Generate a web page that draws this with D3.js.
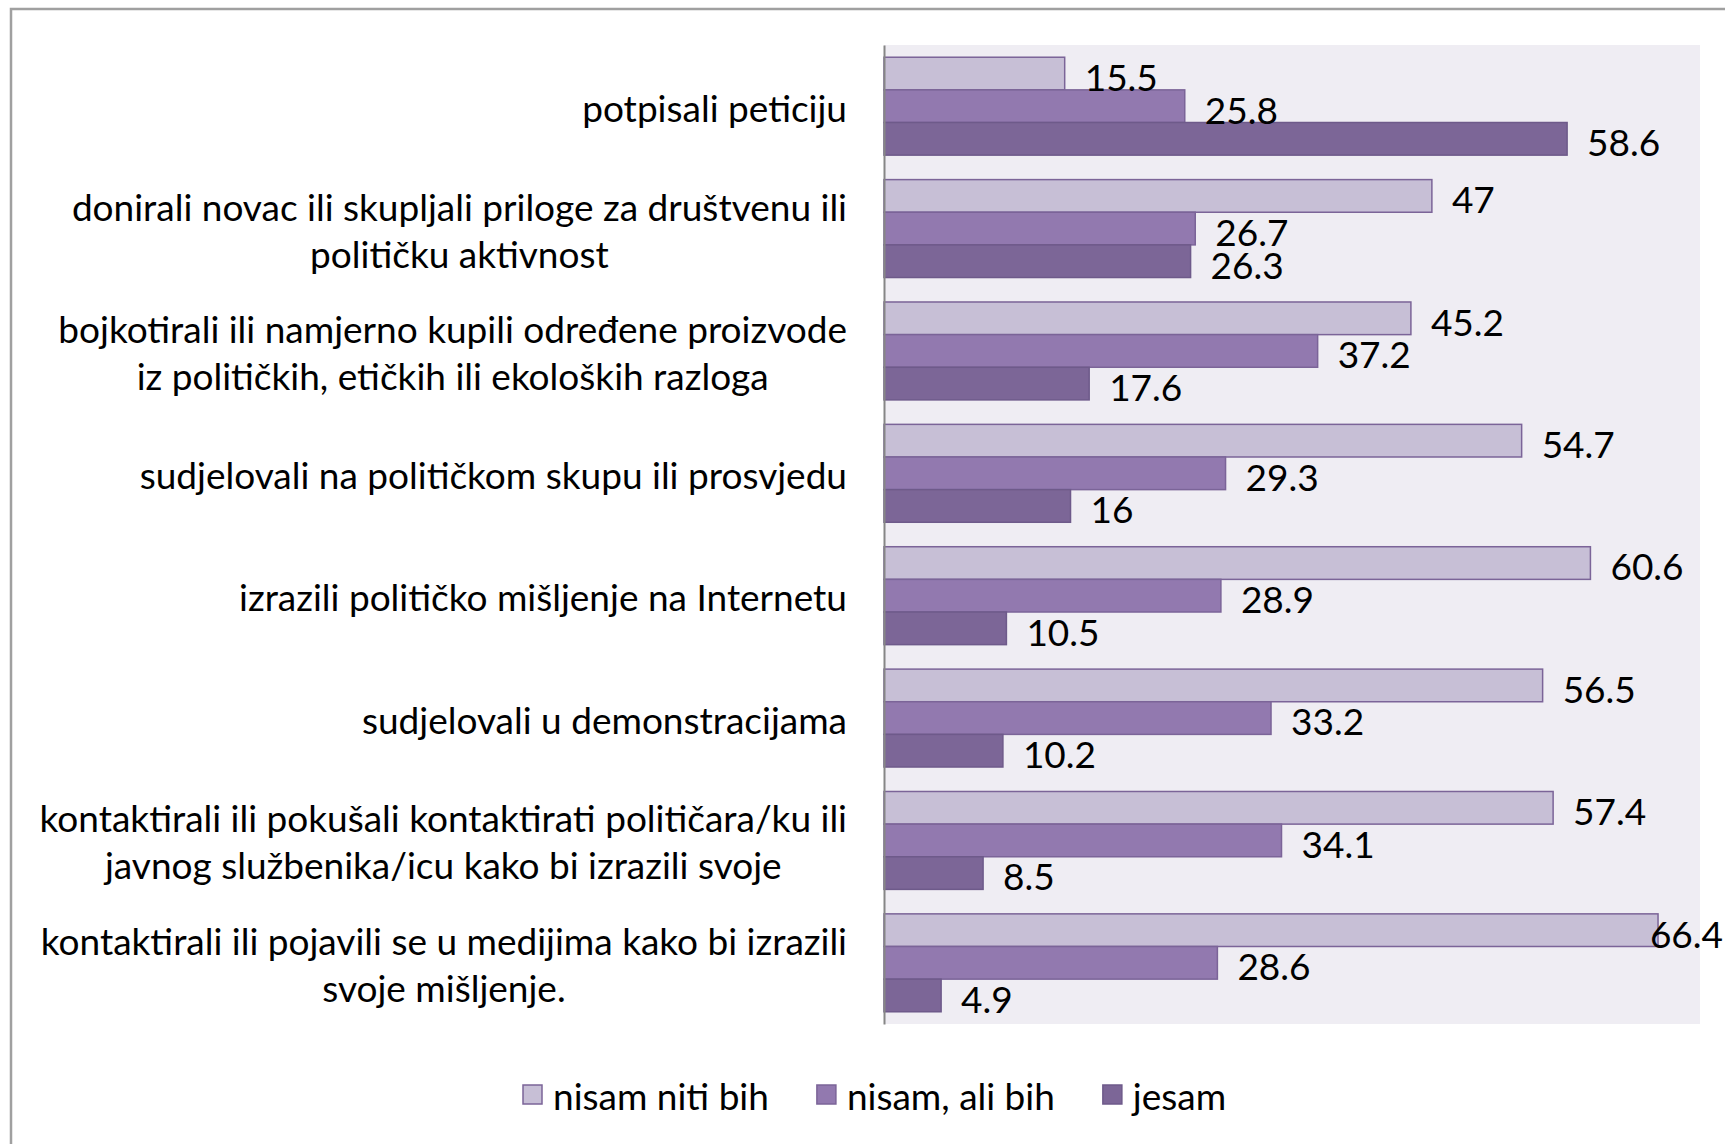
<!DOCTYPE html>
<html>
<head>
<meta charset="utf-8">
<script src="https://d3js.org/d3.v7.min.js"></script>
<style>
  body { margin: 0; background: #fff; }
  text { font-family: Lato, "Open Sans", sans-serif; fill: #000; }
</style>
</head>
<body>
<script>
// categories (top to bottom), line breaks as in the original
var categories = [
  "potpisali peticiju",
  "donirali novac ili skupljali priloge za društvenu ili\npolitičku aktivnost",
  "bojkotirali ili namjerno kupili određene proizvode\niz političkih, etičkih ili ekoloških razloga",
  "sudjelovali na političkom skupu ili prosvjedu",
  "izrazili političko mišljenje na Internetu",
  "sudjelovali u demonstracijama",
  "kontaktirali ili pokušali kontaktirati političara/ku ili\njavnog službenika/icu kako bi izrazili svoje",
  "kontaktirali ili pojavili se u medijima kako bi izrazili\nsvoje mišljenje."
];

var seriesNames = ["nisam niti bih", "nisam, ali bih", "jesam"];
var nisamNitiBih = [15.5, 47, 45.2, 54.7, 60.6, 56.5, 57.4, 66.4];
var nisamAliBih = [25.8, 26.7, 37.2, 29.3, 28.9, 33.2, 34.1, 28.6];
var jesam = [58.6, 26.3, 17.6, 16, 10.5, 10.2, 8.5, 4.9];
var seriesValues = [nisamNitiBih, nisamAliBih, jesam];

var colors = ["#c7bfd6", "#9279af", "#7c6697"];
var strokes = ["#7b6498", "#7b6498", "#6e5a8a"];

var width = 1725;
var height = 1144;
var fontSize = 37;

var plot = { left: 884, right: 1700, top: 45, bottom: 1024 };

var svg = d3.select("body")
            .append("svg")
            .attr("width", width)
            .attr("height", height);

// outer frame (cut off on the right and bottom)
svg.append("rect")
   .attr("x", 11)
   .attr("y", 9)
   .attr("width", width)
   .attr("height", height)
   .attr("fill", "none")
   .attr("stroke", "#a0a0a0")
   .attr("stroke-width", 2.5);

// plot background
svg.append("rect")
   .attr("x", plot.left)
   .attr("y", plot.top)
   .attr("width", plot.right - plot.left)
   .attr("height", plot.bottom - plot.top)
   .attr("fill", "#efedf3");

var xScale = d3.scaleLinear()
               .domain([0, 70])
               .range([plot.left, plot.right]);

var yScale = d3.scaleBand()
               .domain(d3.range(categories.length))
               .range([plot.top, plot.bottom])
               .paddingInner(0.2)
               .paddingOuter(0.1);

var ySub = d3.scaleBand()
             .domain(d3.range(seriesNames.length))
             .range([0, yScale.bandwidth()]);

// bars
seriesValues.forEach(function(values, s) {
  svg.append("g")
     .selectAll("rect")
     .data(values)
     .enter()
     .append("rect")
     .attr("x", xScale(0))
     .attr("y", function(d, i) { return yScale(i) + ySub(s); })
     .attr("width", function(d) { return xScale(d) - xScale(0); })
     .attr("height", ySub.bandwidth())
     .attr("fill", colors[s])
     .attr("stroke", strokes[s])
     .attr("stroke-width", 1.5);
});

// value labels (drawn after all bars, kept inside the picture)
seriesValues.forEach(function(values, s) {
  svg.append("g")
     .selectAll("text")
     .data(values)
     .enter()
     .append("text")
     .attr("y", function(d, i) { return yScale(i) + ySub(s) + ySub.bandwidth() / 2; })
     .attr("dy", "0.47em")
     .style("font-size", fontSize + "px")
     .text(function(d) { return d; })
     .attr("x", function(d) {
       var w = this.getComputedTextLength();
       return Math.min(xScale(d) + 20, width - w - 2);
     });
});

// vertical axis with category labels
var yAxis = d3.axisLeft(yScale)
              .tickSize(0)
              .tickSizeOuter(0)
              .tickPadding(37)
              .tickFormat(function(i) { return categories[i]; });

var axisG = svg.append("g")
               .attr("transform", "translate(" + plot.left + ",0)")
               .call(yAxis);

axisG.select(".domain")
     .attr("stroke", "#868686")
     .attr("stroke-width", 2);

// multi-line labels: lines centred on each other, block right-aligned
axisG.selectAll(".tick text")
     .style("font-size", fontSize + "px")
     .style("font-family", "Lato, 'Open Sans', sans-serif")
     .attr("fill", "#000")
     .each(function(i) {
       var lines = categories[i].split("\n");
       var t = d3.select(this);
       var lh = 47;
       t.text(null).attr("dy", null);
       var spans = lines.map(function(line, k) {
         return t.append("tspan")
                 .attr("y", (k - (lines.length - 1) / 2) * lh)
                 .attr("dy", "0.42em")
                 .text(line);
       });
       var maxW = d3.max(spans, function(sp) { return sp.node().getComputedTextLength(); });
       t.attr("text-anchor", "middle");
       spans.forEach(function(sp) { sp.attr("x", -37 - maxW / 2); });
     });

// legend
var legend = svg.append("g");
var lx = 523;
seriesNames.forEach(function(name, s) {
  legend.append("rect")
        .attr("x", lx)
        .attr("y", 1085)
        .attr("width", 19)
        .attr("height", 19)
        .attr("fill", colors[s])
        .attr("stroke", strokes[s])
        .attr("stroke-width", 1.5);
  var t = legend.append("text")
                .attr("x", lx + 30)
                .attr("y", 1097)
                .attr("dy", "0.35em")
                .style("font-size", fontSize + "px")
                .text(name);
  lx = lx + 30 + t.node().getComputedTextLength() + 48;
});
</script>
</body>
</html>
